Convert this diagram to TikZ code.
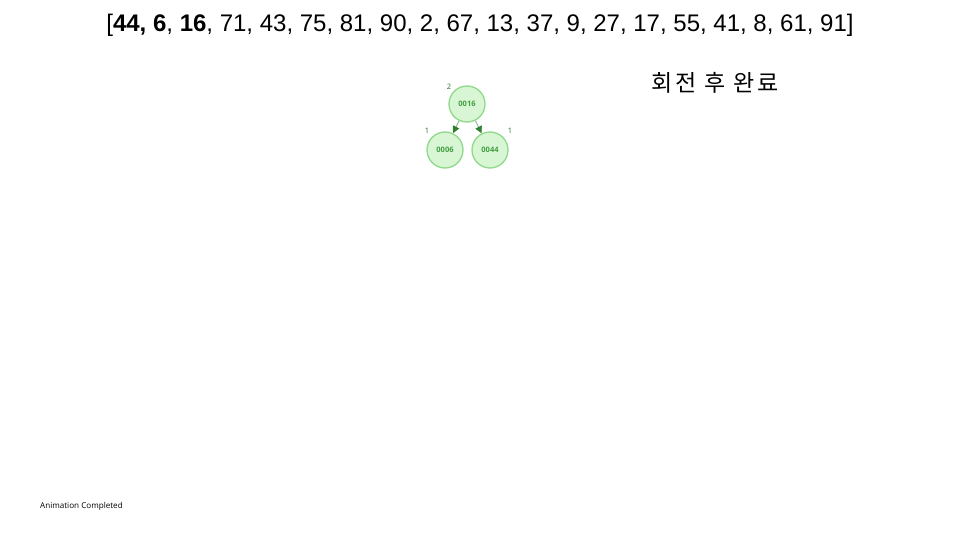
\documentclass[tikz,border=0pt]{standalone}
\usepackage{fontspec}
\setmainfont{Liberation Sans}
\newfontfamily\krfont[LetterSpace=12]{Noto Sans CJK KR}
\newfontfamily\opensans{Open Sans}
\usetikzlibrary{arrows.meta}
\definecolor{nodefill}{HTML}{D8F5D4}
\definecolor{nodeline}{HTML}{8FD98B}
\definecolor{nodetext}{HTML}{3F9F3F}
\definecolor{edgecol}{HTML}{8CB88A}
\definecolor{tipcol}{HTML}{2F7F2F}
\tikzset{
  avl/.style={circle, draw=nodeline, line width=1.3pt, fill=nodefill, minimum size=36pt, inner sep=0pt, text=nodetext, font=\opensans\bfseries\fontsize{7.5}{8}\selectfont},
  hlabel/.style={text=nodetext!70!black, font=\opensans\fontsize{7.5}{8}\selectfont, inner sep=0pt},
  edge/.style={draw=edgecol, line width=0.9pt, -{Triangle[length=7pt,width=7pt,color=tipcol]}}
}
\begin{document}
\begin{tikzpicture}[x=1pt,y=-1pt]
\useasboundingbox (0,0) rectangle (960,540);
\node[inner sep=0pt, anchor=center] (arr) at (480,25) {\fontsize{24}{26}\selectfont [\textbf{44, 6}, \textbf{16}, 71, 43, 75, 81, 90, 2, 67, 13, 37, 9, 27, 17, 55, 41, 8, 61, 91]};
\node[inner sep=0pt] (msg) at (715,83) {\krfont\fontsize{23}{26}\selectfont 회전 후 완료};
\node[avl] (n16) at (467,104) {0016};
\node[avl] (n6) at (445,150) {0006};
\node[avl] (n44) at (490,150) {0044};
\node[hlabel] (h16) at (449,87) {2};
\node[hlabel] (h6) at (427,131) {1};
\node[hlabel] (h44) at (510,131) {1};
\draw[edge] (n16) -- (n6);
\draw[edge] (n16) -- (n44);
\node[inner sep=0pt, anchor=west] (status) at (40,506) {\opensans\fontsize{8.1}{9}\selectfont Animation Completed};
\end{tikzpicture}
\end{document}
